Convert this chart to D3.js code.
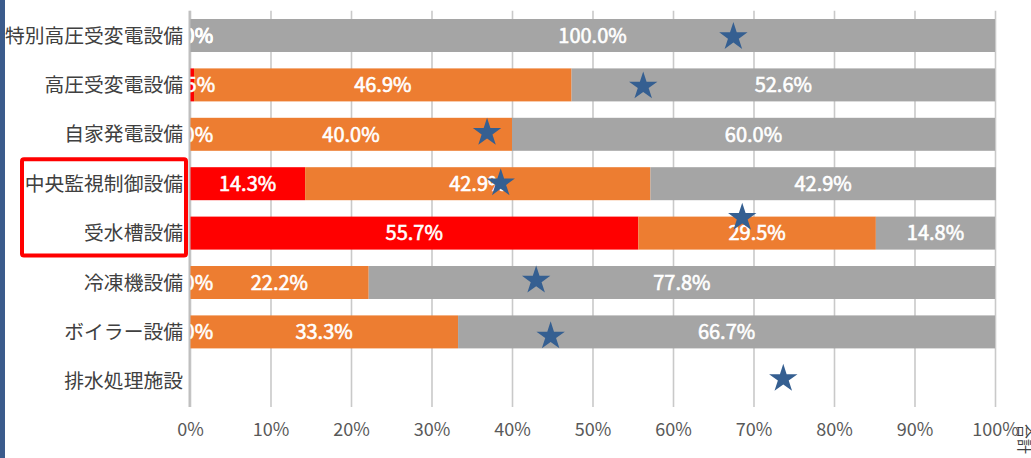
<!DOCTYPE html>
<html>
<head>
<meta charset="utf-8">
<script src="https://cdn.jsdelivr.net/npm/d3@7"></script>
<style>
    html, body { margin: 0; padding: 0; background: #ffffff; }
    #chart { width: 1031px; height: 458px; }
    text { font-family: "Noto Sans CJK JP", "Noto Sans", sans-serif; }
</style>
</head>
<body>
<div id="chart"></div>
<script>
// defining global variables
const categories = ['特別高圧受変電設備', '高圧受変電設備', '自家発電設備', '中央監視制御設備', '受水槽設備', '冷凍機設備', 'ボイラー設備', '排水処理施設'];
const redValues = [0.0, 0.5, 0.0, 14.3, 55.7, 0.0, 0.0, null];
const orangeValues = [0.0, 46.9, 40.0, 42.9, 29.5, 22.2, 33.3, null];
const greyValues = [100.0, 52.6, 60.0, 42.9, 14.8, 77.8, 66.7, null];
const starValues = [67.5, 56.3, 36.9, 38.6, 68.6, 43.0, 44.8, 73.7];
const starRows = [0, 1, 1.94, 2.96, 3.66, 4.93, 6.06, 6.92];
const tickValues = [0, 10, 20, 30, 40, 50, 60, 70, 80, 90, 100];
const tickLabels = ['0%', '10%', '20%', '30%', '40%', '50%', '60%', '70%', '80%', '90%', '100%'];
const seriesColors = ['#ff0000', '#ed7d31', '#a5a5a5'];
const highlighted = ['中央監視制御設備', '受水槽設備'];
const totalLabel = '合計';

// selecting root element
const root = document.getElementById('chart');
const container = d3.select(root);

// declaring setup/layout variables
const clientWidth = 1031;
const clientHeight = 458;
const plot = {l: 190, r: 995, t: 10.8, b: 406};

// building stacked rows from the series arrays
const series = [redValues, orangeValues, greyValues];
const rows = categories.map((c, i) => {
    let x0 = 0;
    const segs = [];
    series.forEach((s, k) => {
        if (s[i] === null) return;
        segs.push({cat: c, k: k, x0: x0, x1: x0 + s[i], v: s[i]});
        x0 += s[i];
    });
    return segs;
});
const segments = rows.flat();

// setting up scales
const scaleX = d3.scaleLinear()
    .domain([0, 100])
    .range([plot.l, plot.r]);

const scaleY = d3.scaleBand()
    .domain(categories)
    .range([plot.t, plot.b])
    .paddingInner(0.332)
    .paddingOuter(0.166);

const scaleRow = d3.scaleLinear()
    .domain([0, categories.length - 1])
    .range([scaleY(categories[0]) + scaleY.bandwidth() / 2,
            scaleY(categories[categories.length - 1]) + scaleY.bandwidth() / 2]);

// appending svg
const svg = container.append('svg')
    .attr('width', clientWidth)
    .attr('height', clientHeight);

// clip for value labels: they don't show left of the axis
svg.append('defs')
    .append('clipPath')
    .attr('id', 'plot-clip')
    .append('rect')
    .attr('x', plot.l - 4).attr('y', 0)
    .attr('width', clientWidth).attr('height', clientHeight);

// left border stripe
svg.append('rect')
    .attr('x', 0).attr('y', 0)
    .attr('width', 5).attr('height', clientHeight)
    .style('fill', '#3b5b8c');

// gridlines + tick labels
const axisX = d3.axisBottom(scaleX)
    .tickValues(tickValues)
    .tickFormat((d, i) => tickLabels[i])
    .tickSize(-(plot.b + 1 - plot.t));

const axisG = svg.append('g')
    .attr('class', 'axis-x')
    .attr('transform', `translate(0,${plot.b + 1})`)
    .call(axisX);
axisG.select('.domain').remove();
axisG.selectAll('line')
    .style('stroke', '#c9c9c9')
    .style('stroke-width', 1.6);
axisG.selectAll('text')
    .attr('y', 23)
    .attr('dy', '0.35em')
    .style('font-size', '18px')
    .style('fill', '#595959');

// stacked bars
svg.append('g')
    .attr('class', 'bars')
    .selectAll('rect')
    .data(segments)
    .enter()
    .append('rect')
    .attr('x', d => scaleX(d.x0))
    .attr('y', d => scaleY(d.cat))
    .attr('width', d => scaleX(d.x1) - scaleX(d.x0))
    .attr('height', scaleY.bandwidth())
    .style('fill', d => seriesColors[d.k]);

// bar value labels
svg.append('g')
    .attr('class', 'bar-labels')
    .attr('clip-path', 'url(#plot-clip)')
    .selectAll('text')
    .data(segments)
    .enter()
    .append('text')
    .attr('x', d => scaleX((d.x0 + d.x1) / 2))
    .attr('y', d => scaleY(d.cat) + scaleY.bandwidth() / 2)
    .attr('dy', '0.36em')
    .attr('text-anchor', 'middle')
    .style('font-size', '20px')
    .style('fill', '#ffffff')
    .style('stroke', '#ffffff')
    .style('stroke-width', 0.6)
    .text(d => d3.format('.1f')(d.v) + '%');

// vertical category axis line
svg.append('line')
    .attr('x1', scaleX(0) - 0.5).attr('x2', scaleX(0) - 0.5)
    .attr('y1', plot.t).attr('y2', plot.b + 1)
    .style('stroke', '#bfbfbf')
    .style('stroke-width', 2);

// category labels
svg.append('g')
    .attr('class', 'cat-labels')
    .selectAll('text')
    .data(categories)
    .enter()
    .append('text')
    .attr('x', scaleX(0) - 7)
    .attr('y', d => scaleY(d) + scaleY.bandwidth() / 2)
    .attr('dy', '0.36em')
    .attr('text-anchor', 'end')
    .style('font-size', '19.8px')
    .style('fill', '#404040')
    .text(d => d);

// red highlight frame
const hiTop = scaleY(highlighted[0]) - 8;
const hiBottom = scaleY(highlighted[highlighted.length - 1]) + scaleY.bandwidth() + 6;
svg.append('rect')
    .attr('x', 22).attr('y', hiTop)
    .attr('width', 164).attr('height', hiBottom - hiTop)
    .attr('rx', 2)
    .style('fill', 'none')
    .style('stroke', '#ff0000')
    .style('stroke-width', 4);

// stars (合計 series)
const star = d3.symbol().type(d3.symbolStar).size(250);
svg.append('g')
    .attr('class', 'stars')
    .selectAll('path')
    .data(starValues)
    .enter()
    .append('path')
    .attr('d', star)
    .attr('transform', (d, i) => `translate(${scaleX(d)},${scaleRow(starRows[i]) + 1.4})`)
    .style('fill', '#355f91');

// secondary axis title, clipped at the right edge
svg.append('text')
    .attr('transform', `translate(1019,424) rotate(90)`)
    .style('font-size', '15px')
    .style('fill', '#404040')
    .text(totalLabel);
</script>
</body>
</html>
